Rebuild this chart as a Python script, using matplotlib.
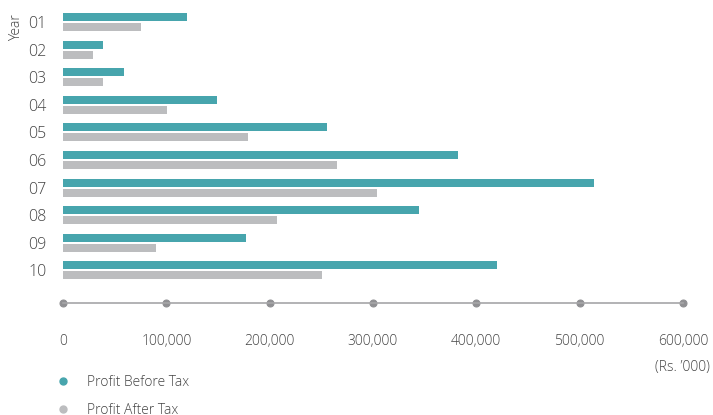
import matplotlib
matplotlib.use("Agg")
import matplotlib.pyplot as plt
from matplotlib.lines import Line2D
import numpy as np

years = ["01", "02", "03", "04", "05", "06", "07", "08", "09", "10"]
profit_before_tax = [120000, 38500, 59500, 149000, 255000, 382000, 514000, 344500, 177000, 420000]
profit_after_tax = [75500, 29000, 38700, 100500, 179000, 265000, 304000, 207000, 90000, 250500]
xticks = [0, 100000, 200000, 300000, 400000, 500000, 600000]
xtick_labels = ["0", "100,000", "200,000", "300,000", "400,000", "500,000", "600,000"]

TEAL = "#47A5AD"
GREY = "#BCBDBF"
TEXT = "#444444"
AXIS = "#a6a6a8"
DOT = "#909093"

plt.rcParams['font.family'] = ['Open Sans', 'DejaVu Sans']

W, H = 713, 415
fig = plt.figure(figsize=(W / 100, H / 100), dpi=100)
left, right = 63, 683
top_px, bottom_px = 5, 303
ax = fig.add_axes([left / W, 1 - bottom_px / H, (right - left) / W, (bottom_px - top_px) / H])

y = np.arange(len(years))
bh = 0.29
off = 0.18
ax.barh(y - off, profit_before_tax, height=bh, color=TEAL, label="Profit Before Tax")
ax.barh(y + off, profit_after_tax, height=bh, color=GREY, label="Profit After Tax")

ax.set_xlim(0, 600000)
ax.set_ylim(10.18, -0.616)
ax.set_yticks(y)
ax.set_yticklabels(years, fontsize=11.5, color=TEXT, fontweight='light')
ax.tick_params(axis='y', length=0, pad=12)

ax.set_xticks(xticks)
ax.set_xticklabels(xtick_labels, fontsize=10, color=TEXT, fontweight='light')
ax.tick_params(axis='x', length=0, pad=22)
for tl in ax.xaxis.get_ticklines():
    tl.set_marker('o')
    tl.set_markersize(5)
    tl.set_color(DOT)
    tl.set_markeredgecolor(DOT)
    tl.set_markerfacecolor(DOT)
    tl.set_clip_on(False)

for s in ['top', 'right', 'left']:
    ax.spines[s].set_visible(False)
ax.spines['bottom'].set_color(AXIS)
ax.spines['bottom'].set_linewidth(1.2)

fig.text(17 / W, 1 - 28 / H, "Year", rotation=90, ha='center', va='center',
         fontsize=10, color=TEXT, fontweight='light')
fig.text(710 / W, 1 - 367 / H, "(Rs. \u2019000)", ha='right', va='center',
         fontsize=10, color=TEXT, fontweight='light')

handles = [Line2D([], [], marker='o', linestyle='none', color=TEAL, markersize=5),
           Line2D([], [], marker='o', linestyle='none', color=GREY, markersize=5)]
leg = fig.legend(handles, ["Profit Before Tax", "Profit After Tax"],
                 loc='upper left', bbox_to_anchor=(56 / W, 1 - 375 / H),
                 frameon=False, fontsize=10, handlelength=1.0, handletextpad=1.2,
                 labelspacing=0.9, borderaxespad=0, borderpad=0)
for t in leg.get_texts():
    t.set_color(TEXT)
    t.set_fontweight('light')

fig.savefig("out.png", dpi=100)
